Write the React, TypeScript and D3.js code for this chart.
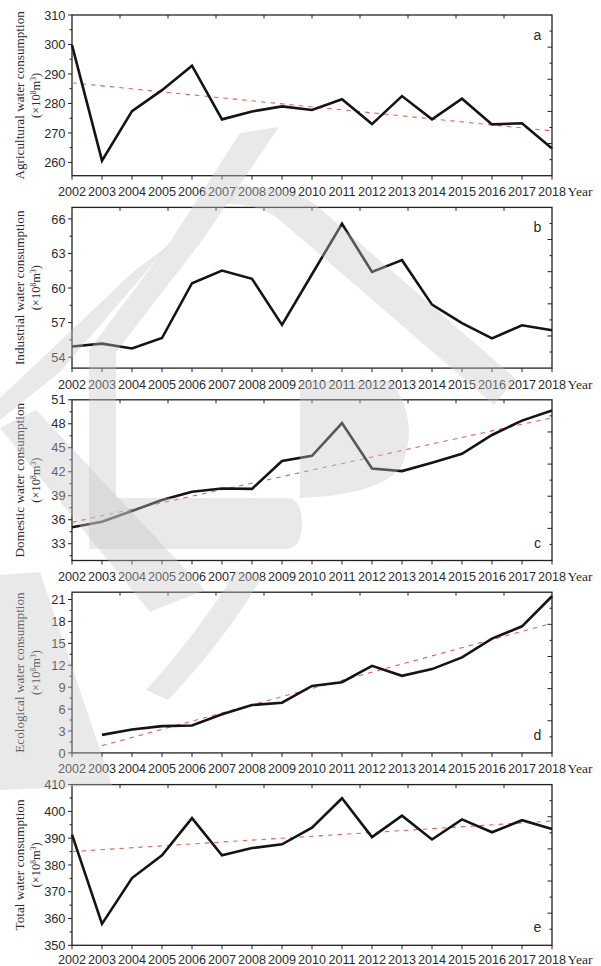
import React from "react";
import * as d3 from "d3";

// ---- data -------------------------------------------------------------
const YEARS = [
  2002, 2003, 2004, 2005, 2006, 2007, 2008, 2009, 2010,
  2011, 2012, 2013, 2014, 2015, 2016, 2017, 2018,
];
const ECO_YEARS = [
  2003, 2004, 2005, 2006, 2007, 2008, 2009, 2010,
  2011, 2012, 2013, 2014, 2015, 2016, 2017, 2018,
];

const agricultural = [
  299.8, 260.6, 277.4, 284.5, 292.8, 274.6, 277.3, 279.0, 277.8,
  281.4, 273.0, 282.5, 274.6, 281.6, 272.9, 273.3, 264.7,
];
const industrial = [
  54.93, 55.17, 54.75, 55.66, 60.42, 61.52, 60.8, 56.8, 61.2,
  65.58, 61.4, 62.42, 58.56, 56.95, 55.63, 56.77, 56.34,
];
const domestic = [
  35.05, 35.75, 37.1, 38.46, 39.5, 39.9, 39.86, 43.35, 44.0,
  48.09, 42.41, 42.08, 43.13, 44.25, 46.6, 48.4, 49.66,
];
const ecological = [
  2.47, 3.2, 3.67, 3.76, 5.28, 6.56, 6.87, 9.17,
  9.67, 11.92, 10.55, 11.47, 13.07, 15.64, 17.33, 21.45,
];
const total = [
  391.3, 358.0, 375.1, 383.6, 397.5, 383.6, 386.3, 387.7, 393.9,
  404.9, 390.4, 398.4, 389.5, 397.0, 392.2, 396.7, 393.4,
];

// fitted trend lines: values at the first and last year of each fit
const trendAgricultural = [287.0, 270.7];
const trendDomestic = [35.67, 48.75];
const trendEcological = [1.0, 17.75];
const trendTotal = [385.0, 396.4];

const yTicksAgricultural = [260, 270, 280, 290, 300, 310];
const yTicksIndustrial = [54, 57, 60, 63, 66];
const yTicksDomestic = [33, 36, 39, 42, 45, 48, 51];
const yTicksEcological = [0, 3, 6, 9, 12, 15, 18, 21];
const yTicksTotal = [350, 360, 370, 380, 390, 400, 410];

const titles = [
  "Agricultural water consumption",
  "Industrial water consumption",
  "Domestic water consumption",
  "Ecological water consumption",
  "Total water consumption",
];
const panelLetters = ["a", "b", "c", "d", "e"];

// ---- layout -----------------------------------------------------------
const W = 601;
const H = 966;
const X0 = 72;
const X1 = 552;
const TOP0 = 15;
const STEP = 192.4;
const PH = 160.7;

const SANS = "'Liberation Sans', Arial, Helvetica, sans-serif";
const SERIF = "'Liberation Serif', 'Times New Roman', serif";
const AXIS = "#222";
const TEXT = "#2b2b2b";

type Panel = {
  years: number[];
  values: number[];
  domain: [number, number];
  ticks: number[];
  trend?: { years: [number, number]; values: number[] };
  letterAtTop: boolean;
};

const panels: Panel[] = [
  {
    years: YEARS,
    values: agricultural,
    domain: [255.5, 310],
    ticks: yTicksAgricultural,
    trend: { years: [2002, 2018], values: trendAgricultural },
    letterAtTop: true,
  },
  {
    years: YEARS,
    values: industrial,
    domain: [53.05, 67],
    ticks: yTicksIndustrial,
    letterAtTop: true,
  },
  {
    years: YEARS,
    values: domestic,
    domain: [30.9, 51],
    ticks: yTicksDomestic,
    trend: { years: [2002, 2018], values: trendDomestic },
    letterAtTop: false,
  },
  {
    years: ECO_YEARS,
    values: ecological,
    domain: [0, 22],
    ticks: yTicksEcological,
    trend: { years: [2003, 2018], values: trendEcological },
    letterAtTop: false,
  },
  {
    years: YEARS,
    values: total,
    domain: [350, 410],
    ticks: yTicksTotal,
    trend: { years: [2002, 2018], values: trendTotal },
    letterAtTop: false,
  },
];

// faint background logo overlaid on the figure
const watermarkPaths = [
  // left stroke, stem and foot
  "M240,133 L279,127 L201,242 L116,352 L116,498 L288,498 Q302,500 302,523 Q302,548 286,549 L89,549 L89,350 L170,242 Z",
  // bowl on the right of the stem
  "M300,381 L391,381 Q420,420 402,466 Q380,495 300,498 Z",
  // arc and long diagonal across panel b
  "M236,186 Q290,186 316,205 L516,379 L494,405 L281,221 Q262,204 226,204 Z",
  // left diagonal across panels b-c
  "M133,272 L170,244 L60,372 L0,420 L0,398 Z",
  // diagonal across panels c-d
  "M0,428 L36,410 L205,590 L150,612 Z",
  // hook in panel d
  "M236,571 L262,577 Q225,640 168,700 L146,690 Q200,630 236,571 Z",
  // lower-left band into panel e
  "M0,575 L40,572 L112,785 L0,790 Z",
];

function Chart() {
  const x = d3.scaleLinear().domain([2002, 2018]).range([X0, X1]);
  const years = YEARS;

  return (
    <svg
      width={W}
      height={H}
      viewBox={`0 0 ${W} ${H}`}
      style={{ position: "absolute", left: 0, top: 0, background: "#fff" }}
    >
      <rect x={0} y={0} width={W} height={H} fill="#fff" />
      {panels.map((p, i) => {
        const top = TOP0 + i * STEP;
        const bottom = top + PH;
        const y = d3.scaleLinear().domain(p.domain).range([bottom, top]);
        const step = p.ticks[1] - p.ticks[0];
        const minor = p.ticks
          .flatMap((t) => [t - step / 2, t + step / 2])
          .filter((v, k, arr) => arr.indexOf(v) === k)
          .filter((v) => v >= p.domain[0] && v <= p.domain[1]);
        const line = d3
          .line<number>()
          .x((_, k) => x(p.years[k]))
          .y((v) => y(v));
        const trendLine = p.trend
          ? d3
              .line<number>()
              .x((_, k) => x(p.trend!.years[k]))
              .y((v) => y(v))(p.trend.values)
          : null;
        const cy = (top + bottom) / 2;
        const rightTicks = d3.range(1, 10);
        const topTicks = d3.range(1, 10);
        const labelBase = Math.min(bottom + 20.5, H - 2.5);
        return (
          <g key={i}>
            {/* frame */}
            <rect
              x={X0}
              y={top}
              width={X1 - X0}
              height={PH}
              fill="none"
              stroke={AXIS}
              strokeWidth={1.3}
            />
            {/* left major ticks & labels */}
            {p.ticks.map((t) => (
              <g key={"t" + t}>
                <line x1={X0 - 4} x2={X0} y1={y(t)} y2={y(t)} stroke={AXIS} strokeWidth={1} />
                <text
                  x={65.5}
                  y={y(t)}
                  dy="0.36em"
                  textAnchor="end"
                  fontFamily={SANS}
                  fontSize={12.8}
                  fill={TEXT}
                >
                  {t}
                </text>
              </g>
            ))}
            {minor.map((t) => (
              <line key={"m" + t} x1={X0 - 2.5} x2={X0} y1={y(t)} y2={y(t)} stroke={AXIS} strokeWidth={1} />
            ))}
            {/* right ticks */}
            {rightTicks.map((k) => (
              <line
                key={"r" + k}
                x1={X1}
                x2={X1 - (k % 2 === 0 ? 4.5 : 2.5)}
                y1={top + (k * PH) / 10}
                y2={top + (k * PH) / 10}
                stroke={AXIS}
                strokeWidth={1}
              />
            ))}
            {/* top ticks */}
            {topTicks.map((k) => (
              <line
                key={"u" + k}
                x1={X0 + (k * (X1 - X0)) / 10}
                x2={X0 + (k * (X1 - X0)) / 10}
                y1={top}
                y2={top + 3.5}
                stroke={AXIS}
                strokeWidth={1}
              />
            ))}
            {/* bottom ticks & year labels */}
            {years.map((yr) => (
              <g key={"x" + yr}>
                <line x1={x(yr)} x2={x(yr)} y1={bottom} y2={bottom + 4} stroke={AXIS} strokeWidth={1} />
                <text
                  x={x(yr)}
                  y={labelBase}
                  textAnchor="middle"
                  fontFamily={SANS}
                  fontSize={12.6}
                  fill={TEXT}
                >
                  {yr}
                </text>
              </g>
            ))}
            <text x={567.5} y={labelBase} fontFamily={SERIF} fontSize={13.5} fill={TEXT}>
              Year
            </text>
            {/* trend */}
            {trendLine && (
              <path
                d={trendLine}
                fill="none"
                stroke="#e2645a"
                strokeWidth={1.1}
                strokeDasharray="4.5 5"
              />
            )}
            {/* series */}
            <path
              d={line(p.values) || ""}
              fill="none"
              stroke="#141414"
              strokeWidth={2.6}
              strokeLinejoin="miter"
            />
            {/* panel letter */}
            <text
              x={537.5}
              y={p.letterAtTop ? top + 20 : bottom - 18}
              dy="0.36em"
              textAnchor="middle"
              fontFamily={SANS}
              fontSize={14}
              fill={TEXT}
            >
              {panelLetters[i]}
            </text>
            {/* axis title */}
            <text
              transform={`translate(19.5,${cy}) rotate(-90)`}
              textAnchor="middle"
              dy="0.35em"
              fontFamily={SERIF}
              fontSize={13.2}
              fill={TEXT}
            >
              {titles[i]}
            </text>
            <text
              transform={`translate(36,${cy}) rotate(-90)`}
              textAnchor="middle"
              dy="0.35em"
              fontFamily={SERIF}
              fontSize={12.5}
              fill={TEXT}
            >
              (×10
              <tspan fontSize={7.5} dy="-4.5">8</tspan>
              <tspan dy="4.5">m</tspan>
              <tspan fontSize={7.5} dy="-4.5">3</tspan>
              <tspan dy="4.5">)</tspan>
            </text>
          </g>
        );
      })}
      <g fill="rgb(196,196,196)" fillOpacity={0.38}>
        {watermarkPaths.map((d, k) => (
          <path key={k} d={d} />
        ))}
      </g>
    </svg>
  );
}

export default function App() {
  return <Chart />;
}
